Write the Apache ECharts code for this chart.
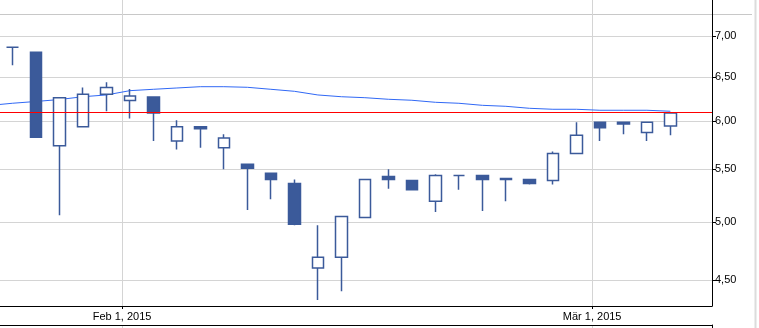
<!DOCTYPE html>
<html><head><meta charset="utf-8">
<script src="https://cdn.jsdelivr.net/npm/echarts@6/dist/echarts.min.js"></script>
<style>html,body{margin:0;padding:0;background:#fff}#c{width:759px;height:328px}</style>
</head><body><div id="c"></div>
<script>
// Trading days (first one is only used by the moving average, its candle is off-screen)
const dates = ['2015-01-23',
  '2015-01-26','2015-01-27','2015-01-28','2015-01-29','2015-01-30',
  '2015-02-02','2015-02-03','2015-02-04','2015-02-05','2015-02-06',
  '2015-02-09','2015-02-10','2015-02-11','2015-02-12','2015-02-13',
  '2015-02-16','2015-02-17','2015-02-18','2015-02-19','2015-02-20',
  '2015-02-23','2015-02-24','2015-02-25','2015-02-26','2015-02-27',
  '2015-03-02','2015-03-03','2015-03-04','2015-03-05'];
const openP  = [null, 6.86, 6.80, 5.74, 5.94, 6.30, 6.23, 6.27, 5.79, 5.94, 5.72, 5.55, 5.46, 5.36, 4.60, 4.69, 5.04, 5.43, 5.39, 5.19, 5.44, 5.44, 5.41, 5.40, 5.39, 5.66, 5.99, 5.99, 5.88, 5.95];
const closeP = [null, 6.86, 5.83, 6.26, 6.30, 6.38, 6.28, 6.09, 5.94, 5.92, 5.82, 5.51, 5.40, 4.98, 4.69, 5.05, 5.40, 5.40, 5.30, 5.44, 5.44, 5.40, 5.40, 5.36, 5.66, 5.85, 5.93, 5.97, 5.99, 6.09];
const lowP   = [null, 6.64, 5.83, 5.06, 5.94, 6.11, 6.03, 5.79, 5.70, 5.72, 5.50, 5.11, 5.21, 4.97, 4.34, 4.41, 5.04, 5.31, 5.30, 5.09, 5.30, 5.10, 5.19, 5.35, 5.35, 5.66, 5.79, 5.86, 5.79, 5.85];
const highP  = [null, 6.86, 6.80, 6.26, 6.38, 6.44, 6.36, 6.27, 6.01, 5.94, 5.86, 5.55, 5.46, 5.40, 4.97, 5.05, 5.40, 5.50, 5.39, 5.45, 5.44, 5.44, 5.41, 5.40, 5.68, 5.99, 5.99, 5.99, 5.99, 6.09];
const movingAvg = [6.174, 6.199, 6.219, 6.241, 6.273, 6.293, 6.342, 6.358, 6.373, 6.388, 6.388, 6.381, 6.358, 6.335, 6.293, 6.273, 6.262, 6.244, 6.233, 6.210, 6.199, 6.176, 6.165, 6.143, 6.132, 6.132, 6.121, 6.121, 6.121, 6.110];
const refLevel = 6.10;
const yTicks = [4.5, 5.0, 5.5, 6.0, 6.5, 7.0];
const xTickDates = ['2015-02-01', '2015-03-01'];
const xTickLabels = ['Feb 1, 2015', 'Mär 1, 2015'];
const yMin = 4.294, yMax = 7.474;
const xMin = 0.477, xMax = 30.77;

const candleData = [];
dates.forEach((d, i) => {
  if (openP[i] == null) return;
  candleData.push([i, openP[i], closeP[i], lowP[i], highP[i]]);
});
const maData = movingAvg.map((v, i) => [i, v]);
// a date tick sits inside the weekend gap after the last trading day before it
const xTickPos = xTickDates.map(td => {
  let last = 0;
  dates.forEach((d, i) => { if (d < td) last = i; });
  return last + 0.67;
});
const xLabelOf = v => {
  for (let k = 0; k < xTickPos.length; k++) if (Math.abs(xTickPos[k] - v) < 1e-6) return xTickLabels[k];
  return '';
};

const FONT = 'Liberation Sans';
const BLUE = '#3b5a9a';
const GRID = '#d4d4d4';

const chart = echarts.init(document.getElementById('c'), null, {renderer: 'canvas'});
chart.setOption({
  animation: false,
  backgroundColor: '#fff',
  grid: [
    {left: 0, right: 47, top: 0, height: 306},
    {left: 0, right: 47, top: 325, height: 30}
  ],
  xAxis: [
    {
      type: 'value', gridIndex: 0, min: xMin, max: xMax,
      axisLine: {show: true, onZero: false, lineStyle: {color: '#000', width: 1}},
      axisTick: {show: true, customValues: xTickPos, length: 3, lineStyle: {color: '#000'}},
      axisLabel: {show: true, customValues: xTickPos, formatter: xLabelOf, margin: 5,
        color: '#000', fontFamily: FONT, fontSize: 11},
      splitLine: {show: true, lineStyle: {color: GRID, width: 1}}
    },
    {
      type: 'value', gridIndex: 1, min: xMin, max: xMax, position: 'top',
      axisLine: {show: true, onZero: false, lineStyle: {color: '#000', width: 1}},
      axisTick: {show: false, customValues: xTickPos},
      axisLabel: {show: false},
      splitLine: {show: true, lineStyle: {color: GRID, width: 1}}
    }
  ],
  yAxis: [
    {
      type: 'log', gridIndex: 0, position: 'right', min: yMin, max: yMax,
      axisLine: {show: true, lineStyle: {color: '#000', width: 1}},
      axisTick: {show: true, customValues: yTicks, length: 4, lineStyle: {color: '#000'}},
      axisLabel: {show: true, customValues: yTicks, margin: 3, color: '#000', fontFamily: FONT, fontSize: 11,
        formatter: v => Number(v).toFixed(2).replace('.', ',')},
      splitLine: {show: true, lineStyle: {color: GRID, width: 1}}
    },
    {
      type: 'value', gridIndex: 1, position: 'right', min: 0, max: 1,
      axisLine: {show: true, lineStyle: {color: '#000', width: 1}},
      axisTick: {show: false}, axisLabel: {show: false}, splitLine: {show: false}
    }
  ],
  graphic: [
    {type: 'line', shape: {x1: 0, y1: 14.5, x2: 752, y2: 14.5}, style: {stroke: '#c8c8c8', lineWidth: 1}, z: -1},
    {type: 'line', shape: {x1: 755.5, y1: 0, x2: 755.5, y2: 328}, style: {stroke: '#dcdcdc', lineWidth: 2}, z: -1}
  ],
  series: [
    {
      type: 'line', xAxisIndex: 0, yAxisIndex: 0, data: maData, showSymbol: false, clip: true,
      lineStyle: {color: '#3068f5', width: 1}, z: 3, silent: true
    },
    {
      type: 'candlestick', xAxisIndex: 0, yAxisIndex: 0, data: candleData, barWidth: 12,
      encode: {x: 0, y: [1, 2, 3, 4]}, clip: true,
      itemStyle: {color: '#ffffff', color0: BLUE, borderColor: BLUE, borderColor0: BLUE,
        borderColorDoji: BLUE, borderWidth: 1.5},
      z: 4,
      markLine: {
        silent: true, symbol: ['none', 'none'], label: {show: false},
        lineStyle: {color: '#ff0000', width: 1, type: 'solid'},
        data: [{yAxis: refLevel}]
      }
    }
  ]
});
</script></body></html>
